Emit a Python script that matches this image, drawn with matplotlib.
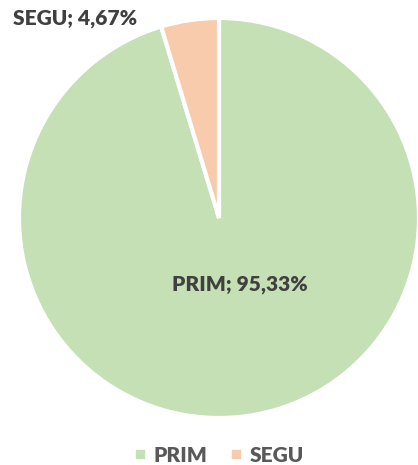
import matplotlib
matplotlib.use('Agg')
import matplotlib.pyplot as plt

# data
labels = ['PRIM', 'SEGU']
values = [95.33, 4.67]
colors = ['#c5e0b4', '#f8cbad']

plt.rcParams['font.family'] = ['Lato', 'DejaVu Sans']

fig = plt.figure(figsize=(4.18, 4.65), dpi=100)
ax = fig.add_axes([19 / 418, 47 / 465, 400 / 418, 400 / 465])
wedges, _ = ax.pie(values, colors=colors, startangle=90, counterclock=False,
                   wedgeprops=dict(edgecolor='white', linewidth=3), radius=1)
ax.set_xlim(-1, 1)
ax.set_ylim(-1, 1)
ax.set_aspect('auto')
ax.axis('off')

def fmt(name, v):
    return f'{name}; {v:.2f}%'.replace('.', ',')

ax.text(0.105, -0.33, fmt(labels[0], values[0]), ha='center', va='center',
        fontsize=15, fontweight='heavy', color='#404040')
ax.text(-0.72, 1.0, fmt(labels[1], values[1]), ha='center', va='center',
        fontsize=15, fontweight='heavy', color='#404040', clip_on=False)

handles = [plt.Line2D([], [], marker='s', linestyle='', markersize=6,
                      markerfacecolor=c, markeredgecolor=c) for c in colors]
fig.legend(handles, labels, loc='center', bbox_to_anchor=(0.518, 10 / 465), ncol=2,
           frameon=False, handletextpad=0.15, columnspacing=0.9, handlelength=1.0,
           prop=dict(size=15, weight='heavy'), labelcolor='#595959')

fig.savefig('out.png', dpi=100)
